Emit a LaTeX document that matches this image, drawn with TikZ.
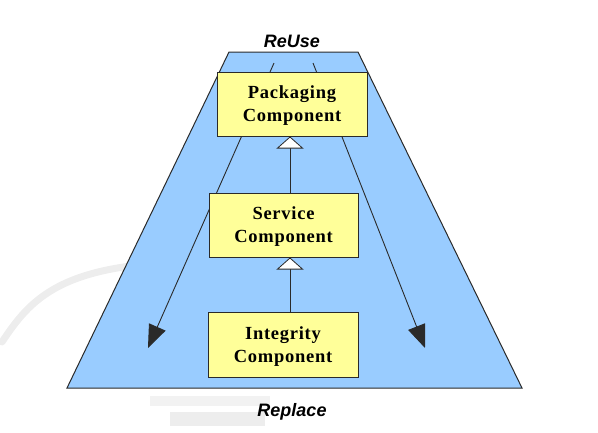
\documentclass[tikz,border=0pt]{standalone}
\usepackage{fontspec}
\setmainfont{Liberation Serif}
\newfontfamily\labelfont{Liberation Sans}
\usetikzlibrary{arrows.meta}
\definecolor{trapblue}{HTML}{99CCFF}
\definecolor{boxyellow}{HTML}{FFFF99}
\definecolor{edgegray}{HTML}{2A2A2A}
\tikzset{
  comp/.style={draw=edgegray, line width=1pt, fill=boxyellow, minimum width=150pt,
    minimum height=64pt, inner sep=0pt, align=center, text depth=-2pt,
    font=\fontsize{18.5}{23}\selectfont\bfseries\addfontfeatures{LetterSpace=4}},
  flowarrow/.style={draw=edgegray, line width=0.9pt,
    -{Triangle[length=23pt,width=18pt]}},
  inherit/.style={draw=edgegray, line width=1pt,
    -{Triangle[fill=white,length=12pt,width=27pt,line width=0.8pt]}},
  endlabel/.style={font=\labelfont\fontsize{18}{20}\selectfont\bfseries\itshape, anchor=base, inner sep=0pt},
  watermark/.style={draw=black!7, line width=7pt, line cap=round}
}
\begin{document}
\begin{tikzpicture}[x=1pt,y=-1pt]
\useasboundingbox (0,0) rectangle (598,432);
% faint background watermark
\draw[watermark] (2,342) .. controls (30,300) and (60,262) .. (200,262);
\fill[black!5] (150,396) rectangle (270,406);
\fill[black!7] (170,412) rectangle (265,426);
% trapezoid
\draw[edgegray, line width=1pt, fill=trapblue] (229,52) -- (358,52) -- (522,388) -- (67,388) -- cycle;
% flow arrows (behind the boxes)
\coordinate (ltop) at (274,63);
\coordinate (lend) at (148,348);
\coordinate (rtop) at (313,63);
\coordinate (rend) at (425,348);
\draw[flowarrow] (ltop) -- (lend);
\draw[flowarrow] (rtop) -- (rend);
% components
\node[comp] (pkg) at (292,104) {Packaging\\Component};
\node[comp, minimum width=149pt] (svc) at (283.5,225) {Service\\Component};
\node[comp, minimum height=65pt] (int) at (283,344.5) {Integrity\\Component};
% inheritance
\coordinate (ax) at (290,0);
\draw[inherit] (svc.north -| ax) -- (pkg.south -| ax);
\draw[inherit] (int.north -| ax) -- (svc.south -| ax);
% labels
\node[endlabel] (reuse) at (292,47) {ReUse};
\node[endlabel] (replace) at (292,416) {Replace};
\end{tikzpicture}
\end{document}
